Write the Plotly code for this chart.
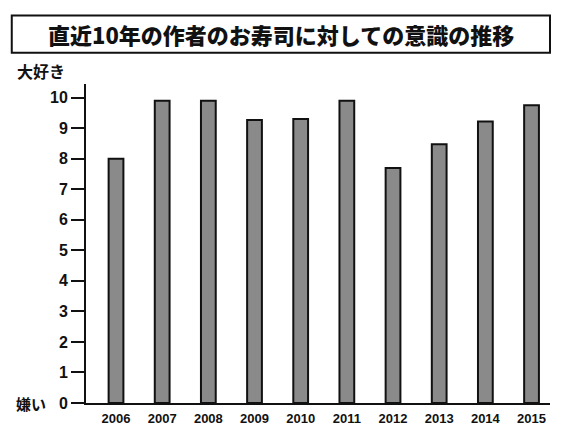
import plotly.graph_objects as go

# data
years = ["2006", "2007", "2008", "2009", "2010", "2011", "2012", "2013", "2014", "2015"]
scores = [8.0, 9.9, 9.9, 9.27, 9.3, 9.9, 7.7, 8.48, 9.22, 9.75]
y_ticks = [0, 1, 2, 3, 4, 5, 6, 7, 8, 9, 10]

title_text = "直近10年の作者のお寿司に対しての意識の推移"
top_label = "大好き"
bottom_label = "嫌い"

JP = "Noto Sans CJK JP"
NUM = "Liberation Sans"

fig = go.Figure()
fig.add_trace(
    go.Bar(
        x=years, y=scores, width=0.32,
        marker=dict(color="#8a8a8a", line=dict(color="#111111", width=2)),
        showlegend=False,
    )
)

# the page body adds an 8px margin, so the figure is 8px smaller on each side
fig.update_layout(
    width=554, height=431,
    margin=dict(l=78, r=12, t=76, b=36),
    paper_bgcolor="white", plot_bgcolor="white",
)

fig.update_xaxes(
    type="category", range=[-0.65, 9.4],
    showline=True, linecolor="#111111", linewidth=2,
    ticks="outside", ticklen=2, tickcolor="rgba(0,0,0,0)",
    tickfont=dict(family=NUM, size=13, color="#111111", weight="bold"),
    showgrid=False, zeroline=False,
)
fig.update_yaxes(
    range=[0, 10.45], tickvals=y_ticks,
    showline=True, linecolor="#111111", linewidth=2,
    ticks="outside", ticklen=13, tickwidth=2, tickcolor="#111111",
    tickfont=dict(family=NUM, size=16, color="#111111", weight="bold"),
    showgrid=False, zeroline=False,
)

# boxed title
fig.add_shape(
    type="rect", xref="paper", yref="paper",
    x0=-0.16, x1=1.0, y0=1.098, y1=1.215,
    line=dict(color="#111111", width=2), fillcolor="white",
)
fig.add_annotation(
    text=title_text, xref="paper", yref="paper", x=0.42, y=1.157,
    showarrow=False, xanchor="center", yanchor="middle",
    font=dict(family=JP, size=22, color="#111111", weight=900),
)

# scale end labels
fig.add_annotation(
    text=top_label, xref="paper", yref="paper", x=-0.153, y=1.04,
    showarrow=False, xanchor="left", yanchor="middle",
    font=dict(family=JP, size=16, color="#111111", weight="bold"),
)
fig.add_annotation(
    text=bottom_label, xref="paper", yref="paper", x=-0.155, y=0.0,
    showarrow=False, xanchor="left", yanchor="middle",
    font=dict(family=JP, size=15, color="#111111", weight="bold"),
)

fig.write_html("out.html")
